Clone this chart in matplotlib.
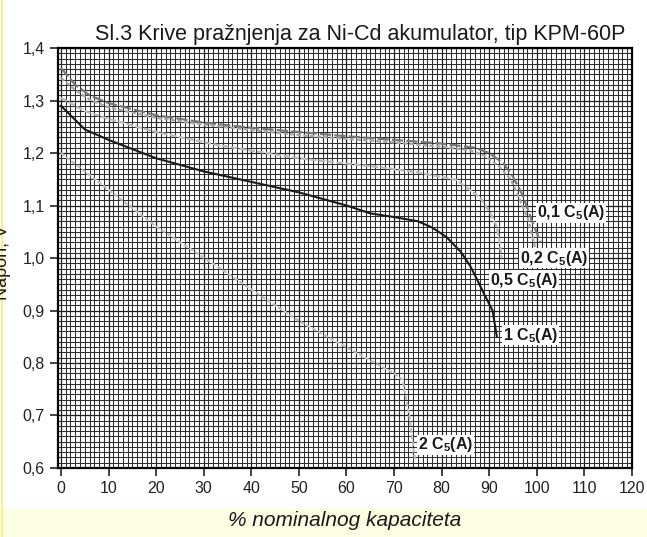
import numpy as np
import matplotlib
matplotlib.use('Agg')
import matplotlib.pyplot as plt
from matplotlib.ticker import MultipleLocator, FuncFormatter

plt.rcParams['font.family'] = ['Liberation Sans', 'DejaVu Sans']
plt.rcParams['mathtext.default'] = 'regular'

# Discharge curves (% nominal capacity, voltage V)
x_01 = [0, 3, 6, 10, 20, 30, 40, 50, 60, 70, 80, 87, 90, 93, 95, 97, 99, 100.8]
v_01 = [1.362, 1.33, 1.31, 1.295, 1.272, 1.258, 1.248, 1.24, 1.232, 1.225, 1.218, 1.21, 1.2, 1.18, 1.155, 1.12, 1.07, 1.03]

x_02 = [0, 3, 6, 10, 20, 30, 40, 50, 60, 70, 80, 86, 89, 92, 94.5, 96.5, 98.3, 99.6]
v_02 = [1.343, 1.32, 1.302, 1.287, 1.267, 1.254, 1.244, 1.234, 1.227, 1.22, 1.212, 1.205, 1.195, 1.175, 1.15, 1.11, 1.07, 1.021]

x_05 = [0, 5, 10, 20, 33, 50, 60, 67, 75, 83, 88, 90.3, 91.6, 92.2, 92.6]
v_05 = [1.305, 1.28, 1.265, 1.24, 1.215, 1.19, 1.18, 1.173, 1.163, 1.149, 1.116, 1.085, 1.059, 1.03, 1.0]

x_1 = [0, 5, 10, 20, 30, 40, 50, 60, 65, 70, 75, 78, 81, 84, 86, 87.5, 89, 90.7, 91.6]
v_1 = [1.29, 1.245, 1.225, 1.19, 1.165, 1.145, 1.125, 1.1, 1.085, 1.078, 1.07, 1.058, 1.04, 1.012, 0.985, 0.958, 0.93, 0.9, 0.85]

x_2 = [0, 5, 10, 20, 33, 40, 50, 60, 66, 70, 71.8, 73.2, 74.4]
v_2 = [1.2, 1.165, 1.13, 1.06, 0.983, 0.94, 0.88, 0.83, 0.80, 0.78, 0.768, 0.70, 0.615]

labels = ['0,1 C$_5$(A)', '0,2 C$_5$(A)', '0,5 C$_5$(A)', '1 C$_5$(A)', '2 C$_5$(A)']
label_x = [100.0, 96.4, 90.1, 92.9, 75.0]
label_v = [1.086, 1.0, 0.958, 0.853, 0.644]

fig = plt.figure(figsize=(6.47, 5.37), dpi=100)
fig.patch.set_facecolor('white')
# yellowish scan border
fig.patches.append(plt.Rectangle((0, 0), 1, 0.053, transform=fig.transFigure,
                                 facecolor='#fdfde4', edgecolor='none', zorder=-1))
fig.patches.append(plt.Rectangle((0.002, 0), 0.003, 1, transform=fig.transFigure,
                                 facecolor='#f4f48a', edgecolor='none', zorder=-1))

ax = fig.add_axes([0.0896, 0.1285, 0.8872, 0.7821])

ax.plot(x_01, v_01, color='#767676', lw=1.6, ls=(0, (5, 1.5)), zorder=3)
ax.plot(x_02, v_02, color='#a5a5a5', lw=1.6, ls=(0, (2, 1)), zorder=3)
ax.plot(x_05, v_05, color='#b8b8b8', lw=1.6, ls=(0, (3, 1)), zorder=3)
ax.plot(x_1, v_1, color='#1a1a1a', lw=1.5, zorder=3)
ax.plot(x_2, v_2, color='#bdbdbd', lw=1.6, ls=(0, (2, 1)), zorder=3)

for lab, lx, lv in zip(labels, label_x, label_v):
    ax.text(lx, lv, lab, fontsize=11.5, fontweight='bold', color='#1a1a1a',
            va='center', ha='left', zorder=4,
            bbox=dict(facecolor='white', edgecolor='none', pad=0.5))

ax.set_xlim(-0.63, 120)
ax.set_ylim(0.6, 1.4)
ax.xaxis.set_major_locator(MultipleLocator(10))
ax.yaxis.set_major_locator(MultipleLocator(0.1))
ax.xaxis.set_minor_locator(MultipleLocator(1))
ax.yaxis.set_minor_locator(MultipleLocator(0.01))
ax.yaxis.set_major_formatter(FuncFormatter(lambda v, p: ('%.1f' % v).replace('.', ',')))
ax.grid(which='minor', color='#2e2e2e', lw=0.75, zorder=1)
ax.grid(which='major', color='#1e1e1e', lw=0.9, zorder=1)
ax.set_axisbelow(True)

ax.tick_params(which='minor', length=0)
ax.tick_params(which='major', direction='out', length=6, width=1.2, labelsize=11.5, colors='#222222')
for s in ax.spines.values():
    s.set_linewidth(1.6)

ax.set_title('Sl.3 Krive pražnjenja za Ni-Cd akumulator, tip KPM-60P', fontsize=15.5, pad=6,
             color='#1a1a1a', x=0.526)
ax.set_xlabel('% nominalnog kapaciteta', fontsize=15, style='italic', labelpad=11, color='#1a1a1a')
ax.set_ylabel('Napon, V', fontsize=13, color='#1a1a1a')
ax.yaxis.set_label_coords(-0.082, 0.49)

fig.savefig('out.png', dpi=100, facecolor=fig.get_facecolor())
